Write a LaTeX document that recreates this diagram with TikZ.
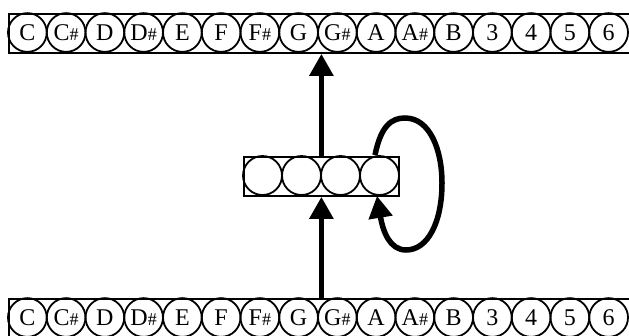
\documentclass[tikz,border=0pt]{standalone}
\usepackage{fontspec}
\setmainfont{Liberation Serif}
\usetikzlibrary{arrows.meta}
\newcommand{\shp}{{\fontsize{18}{18}\selectfont\#}}
\tikzset{
  rowbox/.style={draw, line width=1.8pt, minimum height=39pt, inner sep=0pt, anchor=north west},
  note/.style={draw, circle, line width=1.8pt, minimum size=38.75pt, inner sep=0pt, font=\fontsize{24}{24}\selectfont},
  midnote/.style={draw, circle, line width=1.8pt, minimum size=39pt, inner sep=0pt},
  flow/.style={line width=5.5pt, -{Triangle[length=22pt,width=23pt]}},
}
\begin{document}
\begin{tikzpicture}[x=1pt,y=-1pt]
\clip (0,0) rectangle (629,335);
\fill[white] (0,0) rectangle (629,335);
% rows
\node[rowbox, minimum width=640pt] (top) at (8,13) {};
\node[rowbox, minimum width=640pt] (bot) at (8,298) {};
\foreach \t [count=\i from 0] in {C,C\shp,D,D\shp,E,F,F\shp,G,G\shp,A,A\shp,B,3,4,5,6} {
  \node[note] (t\i) at (8+19.375+\i*38.75, 32.5) {\t};
  \node[note] (b\i) at (8+19.375+\i*38.75, 317.5) {\t};
}
% middle box
\node[rowbox, minimum width=155pt] (mid) at (243,156) {};
\foreach \i in {1,...,4} {
  \node[midnote] (m\i) at (243+19.5+\i*39-39, 175.5) {};
}
% arrows
\draw[flow] (mid.south |- bot.north) -- (mid.south);
\draw[flow] (mid.north) -- (mid.north |- top.south);
\draw[flow] ([xshift=-4.5pt]m4.north) .. controls +(6,-30) and (392,118) .. (405,118)
  .. controls (430,118) and (442,150) .. (442,183)
  .. controls (442,222) and (428,250) .. (406,250)
  .. controls (390,250) and (383,232) .. ([xshift=-2.5pt]m4.south);
\end{tikzpicture}
\end{document}
